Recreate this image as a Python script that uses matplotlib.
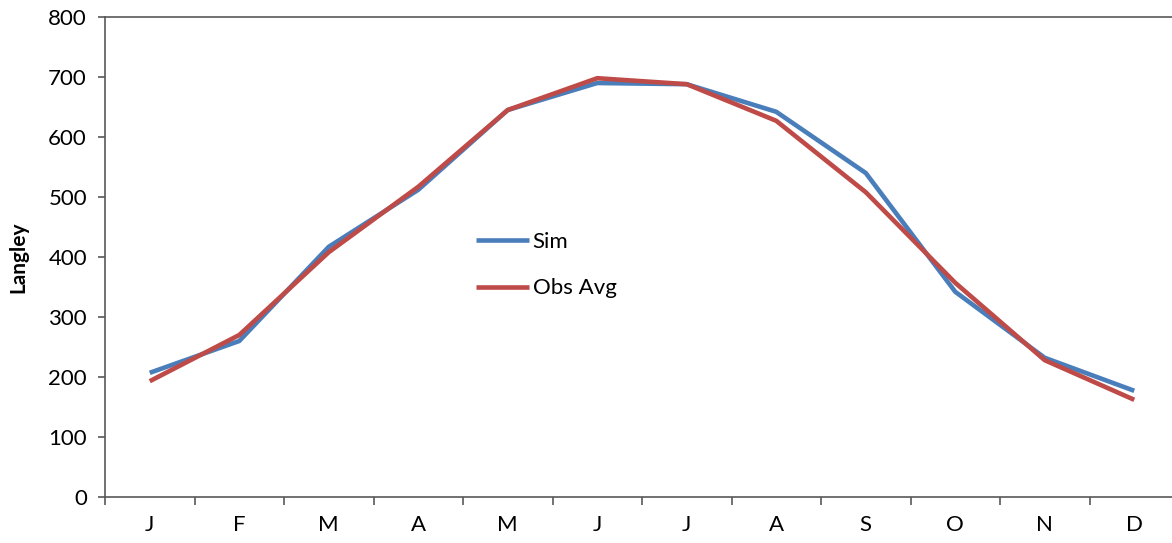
import matplotlib
matplotlib.use("Agg")
from matplotlib import pyplot as plt

# monthly solar radiation, Langley
months = ["J", "F", "M", "A", "M", "J", "J", "A", "S", "O", "N", "D"]
sim = [207, 260, 417, 512, 645, 690, 688, 642, 540, 342, 232, 177]
obs_avg = [193, 270, 408, 517, 645, 698, 688, 627, 508, 357, 228, 162]

plt.rcParams['font.family'] = ['Lato', 'DejaVu Sans']


def main():
    fig = plt.figure(figsize=(11.72, 5.43), dpi=100)
    ax = fig.add_axes([105 / 1172, 46 / 543, 1074 / 1172, 480 / 543])

    x = list(range(len(months)))
    ax.plot(x, sim, color="#4a7ebb", linewidth=3.3, label="Sim", solid_capstyle="butt")
    ax.plot(x, obs_avg, color="#be4b48", linewidth=3.3, label="Obs Avg", solid_capstyle="butt")

    ax.set_xlim(-0.5, len(months) - 0.5)
    ax.set_ylim(0, 800)
    ax.set_yticks(range(0, 801, 100))

    # tick marks sit between the months, labels at the centres
    ax.set_xticks([i - 0.5 for i in range(len(months) + 1)])
    ax.set_xticklabels([])
    ax.set_xticks(x, minor=True)
    ax.set_xticklabels(months, minor=True)
    ax.tick_params(axis="x", which="major", length=6, width=1.2, color="#595959")
    ax.tick_params(axis="x", which="minor", length=0, pad=13, labelsize=16)
    ax.tick_params(axis="y", length=5, width=1.2, color="#595959", labelsize=16, pad=8)

    for side in ["left", "bottom", "top"]:
        ax.spines[side].set_color("#595959")
        ax.spines[side].set_linewidth(1.2)
    ax.spines["right"].set_visible(False)

    ax.set_ylabel("Langley", fontsize=15, fontweight="bold")
    ax.yaxis.set_label_coords(-0.071, 0.5)

    fig.legend(loc="center left", bbox_to_anchor=(476 / 1172, 1 - 265 / 543),
               frameon=False, fontsize=16, handlelength=2.4, handletextpad=0.15,
               labelspacing=1.2, borderpad=0, borderaxespad=0)

    fig.savefig("out.png", dpi=100)


if __name__ == '__main__':
    main()
